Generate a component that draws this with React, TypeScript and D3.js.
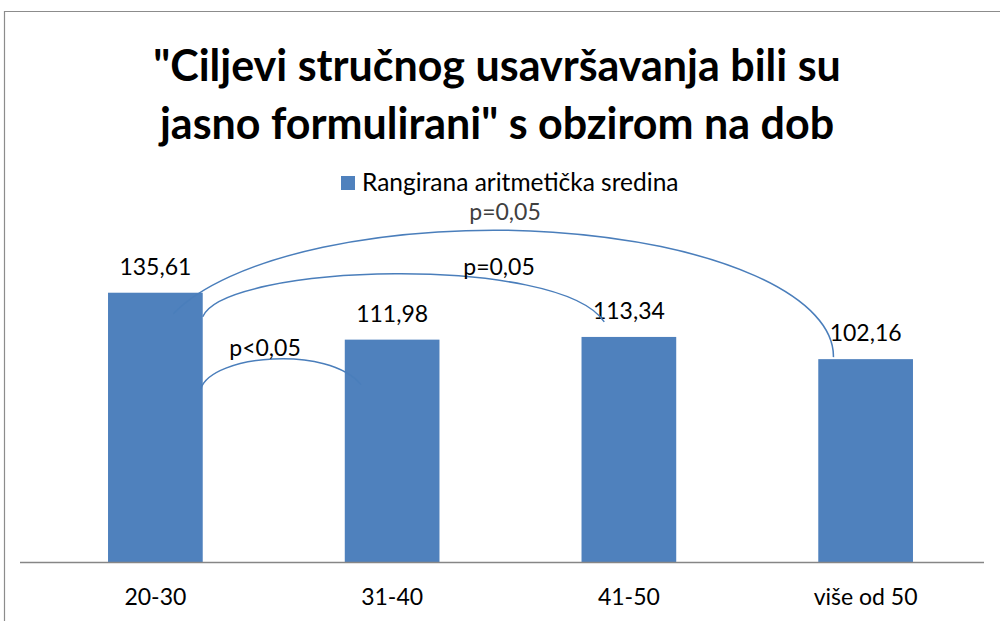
import React, { useEffect, useRef } from 'react';
import * as d3 from 'd3';

// ==== data

const categories = ['20-30', '31-40', '41-50', 'više od 50'];
const means = [135.61, 111.98, 113.34, 102.16];
const meanLabels = ['135,61', '111,98', '113,34', '102,16'];
const seriesName = 'Rangirana aritmetička sredina';
const titleLines = ['"Ciljevi stručnog usavršavanja bili su', 'jasno formulirani" s obzirom na dob'];

// significance arcs between age groups
const arcFrom = [0, 0, 0];
const arcTo = [3, 2, 1];
const arcLabels = ['p=0,05', 'p=0,05', 'p<0,05'];

// ====

const W = 1000;
const H = 621;
const FONT = 'Lato, "Open Sans", sans-serif';
const BLUE = '#4f81bd';
const LINE = '#4a7ebb';

function drawChart(el: SVGSVGElement) {
    const svg = d3.select(el);
    svg.selectAll('*').remove();

    const x = d3.scaleBand<string>()
        .domain(categories)
        .range([37, 984])
        .paddingInner(0.6)
        .paddingOuter(0.3);
    const y = d3.scaleLinear().domain([0, 140]).range([562, 284]);
    const bw = x.bandwidth();

    // outer frame (only top / left visible)
    svg.append('path')
        .attr('d', `M4.5,${H} V11.5 H${W}`)
        .attr('fill', 'none')
        .attr('stroke', '#8c8c8c')
        .attr('stroke-width', 1.2);

    // title
    svg.append('g')
        .selectAll('text')
        .data(titleLines)
        .enter()
        .append('text')
        .attr('x', 497)
        .attr('y', (d, i) => 81 + i * 58)
        .attr('text-anchor', 'middle')
        .style('font-family', FONT)
        .style('font-weight', 'bold')
        .style('font-size', '43px')
        .attr('fill', '#000')
        .text((d) => d);

    // legend
    svg.append('rect')
        .attr('x', 341).attr('y', 176).attr('width', 14).attr('height', 14)
        .attr('fill', BLUE);
    svg.append('text')
        .attr('x', 362).attr('y', 191)
        .style('font-family', FONT)
        .style('font-size', '24.5px')
        .attr('fill', '#000')
        .text(seriesName);

    // bars
    svg.append('g')
        .selectAll('rect')
        .data(means)
        .enter()
        .append('rect')
        .attr('x', (d, i) => x(categories[i]) as number)
        .attr('y', (d) => y(d))
        .attr('width', bw)
        .attr('height', (d) => y(0) - y(d))
        .attr('fill', BLUE);

    // value labels
    svg.append('g')
        .selectAll('text')
        .data(means)
        .enter()
        .append('text')
        .attr('x', (d, i) => (x(categories[i]) as number) + bw / 2)
        .attr('y', (d) => y(d) - 18)
        .attr('text-anchor', 'middle')
        .style('font-family', FONT)
        .style('font-size', '23px')
        .attr('fill', '#000')
        .text((d, i) => meanLabels[i]);

    // axis line
    svg.append('line')
        .attr('x1', 20).attr('x2', 984)
        .attr('y1', y(0) + 0.5).attr('y2', y(0) + 0.5)
        .attr('stroke', '#868686')
        .attr('stroke-width', 1.5);

    // category labels
    svg.append('g')
        .selectAll('text')
        .data(categories)
        .enter()
        .append('text')
        .attr('x', (d) => (x(d) as number) + bw / 2)
        .attr('y', 605)
        .attr('text-anchor', 'middle')
        .style('font-family', FONT)
        .style('font-size', '23px')
        .attr('fill', '#000')
        .text((d) => d);

    // significance arcs, hand placed relative to the bars like the drawn shapes
    const arcPath = (k: number) => {
        const f = arcFrom[k];
        const t = arcTo[k];
        const x0 = x(categories[f]) as number;
        const x1 = x(categories[t]) as number;
        const y0 = y(means[f]);
        const y1 = y(means[t]);
        const p = d3.path();
        if (k === 0) {
            // elliptical arc ending vertically on the last bar
            p.moveTo(x0 + bw * 0.69, y0 + 21);
            return p.toString() + ` A340,126 0 0 1 ${x1 + bw * 0.16},${y1 - 2}`;
        }
        if (k === 1) {
            p.moveTo(x0 + bw, y0 + 24);
            p.bezierCurveTo(x0 + bw + 22, y0 - 29, x1 - 22, y0 - 39, x1 + bw * 0.24, y1 - 15);
            return p.toString();
        }
        p.moveTo(x0 + bw * 0.98, y0 + 96);
        p.bezierCurveTo(x0 + bw + 9, y0 + 62, x1 - 16, y0 + 52, x1 + bw * 0.17, y1 + 45);
        return p.toString();
    };

    svg.append('g')
        .selectAll('path')
        .data(arcLabels)
        .enter()
        .append('path')
        .attr('d', (d, k) => arcPath(k))
        .attr('fill', 'none')
        .attr('stroke', LINE)
        .attr('stroke-width', 1.5);

    const labelPos = [
        { lx: 505, ly: 220, c: '#404040' },
        { lx: 499, ly: 275, c: '#000' },
        { lx: 265, ly: 356, c: '#000' }
    ];
    svg.append('g')
        .selectAll('text')
        .data(arcLabels)
        .enter()
        .append('text')
        .attr('x', (d, i) => labelPos[i].lx)
        .attr('y', (d, i) => labelPos[i].ly)
        .attr('text-anchor', 'middle')
        .style('font-family', FONT)
        .style('font-size', '23px')
        .attr('fill', (d, i) => labelPos[i].c)
        .text((d) => d);
}

export default function App() {
    const ref = useRef<SVGSVGElement>(null);

    useEffect(() => {
        if (ref.current) drawChart(ref.current);
    }, []);

    return (
        <svg
            ref={ref}
            width={W}
            height={H}
            style={{ position: 'absolute', left: 0, top: 0, background: '#fff' }}>
        </svg>
    );
}
